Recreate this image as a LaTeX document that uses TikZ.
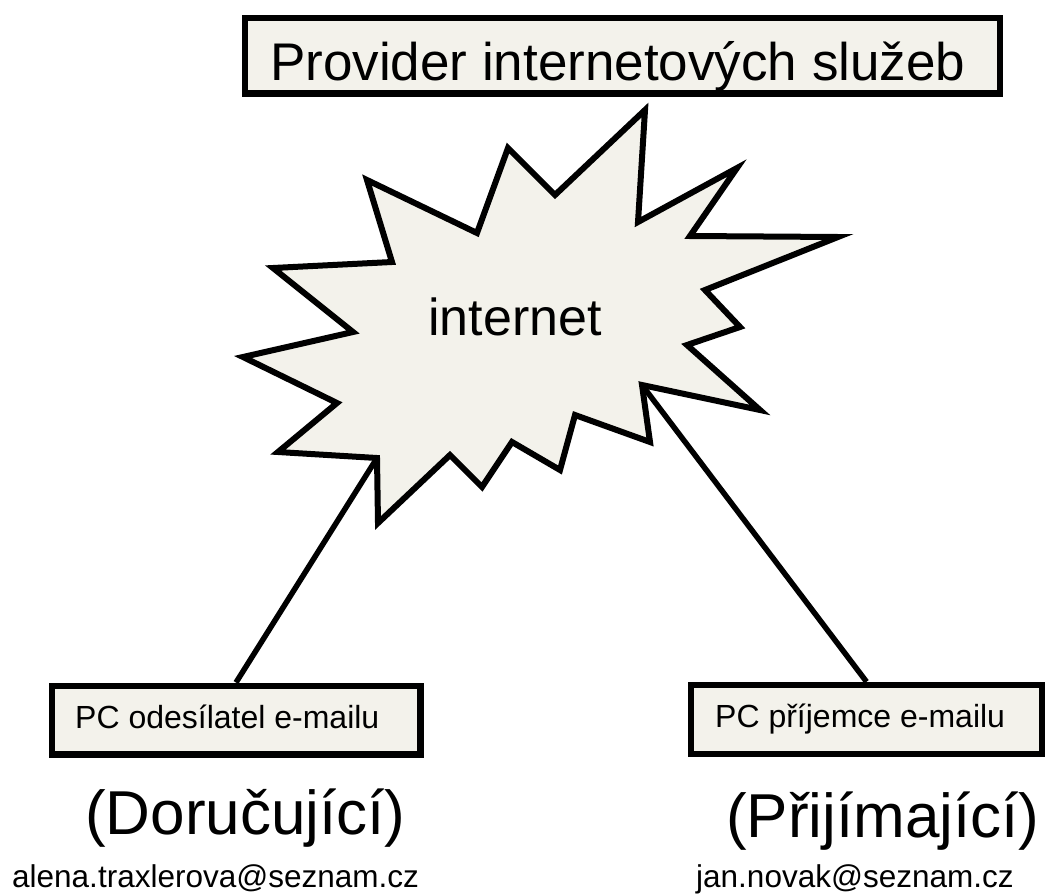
\documentclass[tikz,border=0pt]{standalone}
\usepackage{fontspec}
\setmainfont{Liberation Sans}
\definecolor{boxfill}{RGB}{243,242,235}
\begin{document}
\begin{tikzpicture}[x=1pt,y=-1pt,
  box/.style={draw=black, line width=6.5pt, fill=boxfill, rectangle, inner sep=0pt},
  burst/.style={draw=black, line width=6pt, fill=boxfill, line join=miter, miter limit=20},
  conn/.style={draw=black, line width=5.5pt},
  txt/.style={inner sep=0pt, anchor=base west, text=black}]
\useasboundingbox (0,0) rectangle (1046,894);

% starburst "internet"
\draw[burst] (273,268) -- (392,262) -- (367,180) -- (477,233) -- (508,148)
  -- (555,195) -- (645,110) -- (638,222) -- (737,168) -- (690,236)
  -- (838,237) -- (705,290) -- (740,327) -- (687,345) -- (760,410)
  -- (642,385) -- (650,442) -- (575,415) -- (560,470) -- (512,442)
  -- (482,487) -- (450,455) -- (378,523) -- (377,458) -- (278,452)
  -- (337,403) -- (243,357) -- (353,332) -- cycle;
\coordinate (sL) at (377,458);
\coordinate (sR) at (642,385);
\node[txt, font=\fontsize{52}{60}\selectfont] (inet) at (428,335) {internet};

% provider box
\node[box, minimum width=755pt, minimum height=75.5pt] (prov) at (622.5,55.75) {};
\node[txt, font=\fontsize{53}{60}\selectfont] (provtext) at (270,80) {Provider internetových služeb};

% PC boxes
\node[box, minimum width=368.5pt, minimum height=68.5pt] (pcL) at (236,720) {};
\node[box, minimum width=351pt, minimum height=69pt] (pcR) at (866.5,719.5) {};
\node[txt, font=\fontsize{32}{38}\selectfont] (pcLtext) at (75,728) {PC odesílatel e-mailu};
\node[txt, font=\fontsize{32}{38}\selectfont] (pcRtext) at (715,727) {PC příjemce e-mailu};

% connectors
\draw[conn] (sL) -- (pcL.north);
\draw[conn] (sR) -- (pcR.north);

% labels below
\node[txt, font=\fontsize{62}{70}\selectfont] (roleL) at (85,834) {(Doručující)};
\node[txt, font=\fontsize{62}{70}\selectfont] (roleR) at (726,837) {(Přijímající)};
\node[txt, font=\fontsize{31.5}{36}\selectfont] (mailL) at (12,887) {alena.traxlerova@seznam.cz};
\node[txt, font=\fontsize{31.5}{36}\selectfont] (mailR) at (696,887) {jan.novak@seznam.cz};
\end{tikzpicture}
\end{document}
